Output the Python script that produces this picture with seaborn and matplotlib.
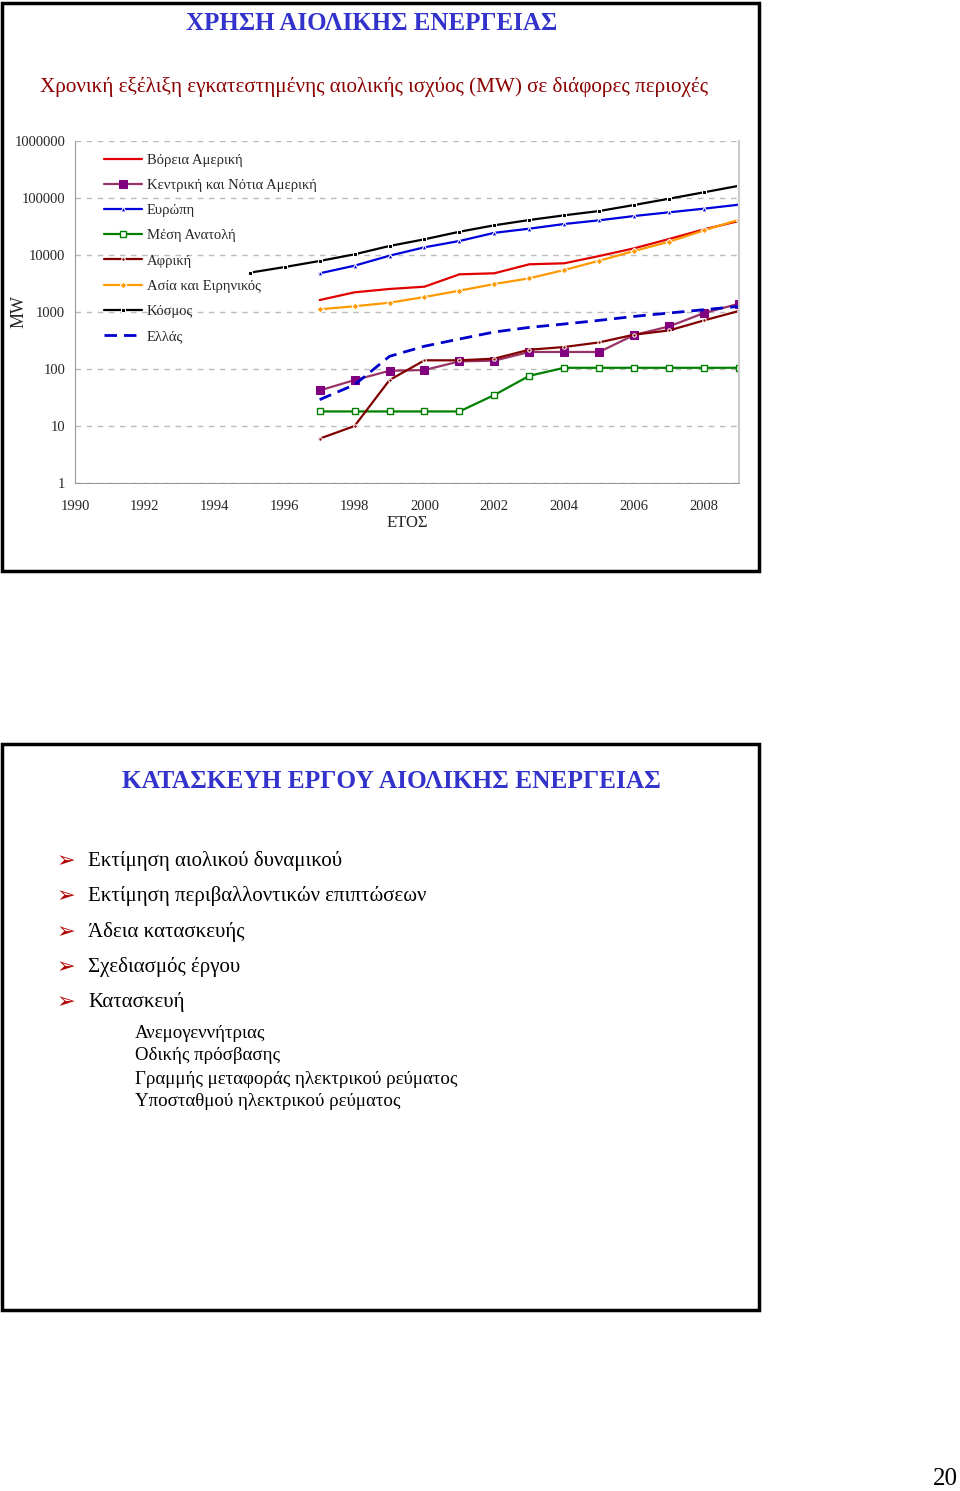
import numpy as np
import pandas as pd
import matplotlib
matplotlib.use("Agg")
import matplotlib.pyplot as plt
from matplotlib.patches import Rectangle
import seaborn as sns

# --- data ---
years = [1997, 1998, 1999, 2000, 2001, 2002, 2003, 2004, 2005, 2006, 2007, 2008, 2009]
world_years = [1995, 1996] + years

north_america = [1620, 2215, 2535, 2780, 4580, 4780, 6870, 7150, 9600, 13100, 19100, 28200, 39500]
central_south_america = [42, 64, 93, 96, 136, 140, 199, 199, 199, 395, 559, 960, 1399]
europe = [4770, 6500, 9730, 13650, 17600, 24500, 28950, 35000, 40600, 48300, 56100, 65000, 76400]
middle_east = [18, 18, 18, 18, 18, 35, 76, 105, 105, 105, 105, 105, 105]
africa = [6, 10, 64, 142, 142, 152, 218, 243, 293, 400, 475, 713, 1042]
asia_pacific = [1115, 1260, 1456, 1833, 2365, 3100, 3900, 5460, 7940, 11750, 17100, 27100, 41600]
world = [4890, 6150, 7850, 10280, 14400, 18850, 25600, 33200, 41100, 49700, 59100, 75400, 97200, 126000, 164000]
greece = [29, 53, 167, 251, 336, 446, 537, 616, 713, 837, 960, 1098, 1254]

y_ticks = [1, 10, 100, 1000, 10000, 100000, 1000000]
x_ticks = list(range(1990, 2009, 2))

bullets = [
    "Εκτίμηση αιολικού δυναμικού",
    "Εκτίμηση περιβαλλοντικών επιπτώσεων",
    "Άδεια κατασκευής",
    "Σχεδιασμός έργου",
    "Κατασκευή",
]
sub_items = [
    "Ανεμογεννήτριας",
    "Οδικής πρόσβασης",
    "Γραμμής μεταφοράς ηλεκτρικού ρεύματος",
    "Υποσταθμού ηλεκτρικού ρεύματος",
]

sns.set_style("white")
plt.rcParams["font.family"] = ["Liberation Serif", "DejaVu Sans"]

W, H = 960, 1491
fig = plt.figure(figsize=(W / 100, H / 100), dpi=100)


def fx(x):
    return x / W


def fy(y):
    return 1 - y / H


# slide frames
for top, bottom in [(3, 571), (744, 1310)]:
    fig.patches.append(Rectangle((fx(2), fy(bottom)), fx(757), (bottom - top) / H,
                                 transform=fig.transFigure, fill=False,
                                 edgecolor="black", linewidth=2.5))

title_blue = "#3333CC"
sub_red = "#8B0000"

fig.text(fx(372), fy(23), "ΧΡΗΣΗ ΑΙΟΛΙΚΗΣ ΕΝΕΡΓΕΙΑΣ", ha="center", va="center",
         fontsize=18, fontweight="bold", color=title_blue)
fig.text(fx(374), fy(87),
         "Χρονική εξέλιξη εγκατεστημένης αιολικής ισχύος (MW) σε διάφορες περιοχές",
         ha="center", va="center", fontsize=15.2, color=sub_red)

# chart axes
ax = fig.add_axes([fx(75), fy(483), (739 - 75) / W, (483 - 141) / H])

series = [
    ("Βόρεια Αμερική", years, north_america, dict(color="#E00000", marker=None)),
    ("Κεντρική και Νότια Αμερική", years, central_south_america,
     dict(color="#993366", marker="s", markersize=5.5, markerfacecolor="#800080",
          markeredgecolor="#800080")),
    ("Ευρώπη", years, europe, dict(color="#0000DD", marker="^", markersize=3.5)),
    ("Μέση Ανατολή", years, middle_east,
     dict(color="#008000", marker="s", markersize=4, markerfacecolor="white",
          markeredgecolor="#008000", markeredgewidth=1)),
    ("Αφρική", years, africa, dict(color="#800000", marker="o", markersize=2.5)),
    ("Ασία και Ειρηνικός", years, asia_pacific,
     dict(color="#FF9900", marker="D", markersize=3.5)),
    ("Κόσμος", world_years, world, dict(color="black", marker="s", markersize=2.8)),
]

for name, xs, ys, style in series:
    sns.lineplot(x=xs, y=ys, ax=ax, label=name, linewidth=1.6, **style)

sns.lineplot(x=years, y=greece, ax=ax, label="Ελλάς", color="#0000CC",
             linewidth=2.0, dashes=False)
ax.lines[-1].set_dashes((4.5, 2.5))

ax.set_yscale("log")
ax.set_ylim(1, 1000000)
ax.set_xlim(1990, 2009)
ax.set_yticks(y_ticks)
ax.set_yticklabels([str(v) for v in y_ticks])
ax.yaxis.set_minor_locator(matplotlib.ticker.NullLocator())
ax.set_xticks(x_ticks)
ax.set_xticklabels([str(v) for v in x_ticks])
ax.tick_params(axis="both", labelsize=10.5, direction="out", length=4,
               color="#999999", width=0.8)
ax.tick_params(axis="y", pad=3)
ax.tick_params(axis="x", pad=8)

ax.grid(axis="y", color="#BBBBBB", linestyle=(0, (4, 4)), linewidth=1)
for s in ["left", "bottom"]:
    ax.spines[s].set_color("#999999")
    ax.spines[s].set_linewidth(0.8)
ax.spines["right"].set_color("#CCCCCC")
ax.spines["right"].set_linewidth(1.5)
ax.spines["top"].set_visible(False)

ax.set_ylabel("MW", fontsize=13)
ax.yaxis.set_label_coords((28 - 75) / 664, (483 - 312) / 342)
ax.set_xlabel("ΕΤΟΣ", fontsize=12, labelpad=2)

ax.legend(loc="upper left", bbox_to_anchor=(0.035, 0.98), frameon=False,
          fontsize=10.5, handlelength=2.6, handletextpad=0.35, labelspacing=0.82,
          borderaxespad=0)

# second slide
fig.text(fx(391), fy(782), "ΚΑΤΑΣΚΕΥΗ ΕΡΓΟΥ ΑΙΟΛΙΚΗΣ ΕΝΕΡΓΕΙΑΣ", ha="center",
         va="center", fontsize=18.3, fontweight="bold", color=title_blue)

for i, b in enumerate(bullets):
    y = 861 + i * 35.3
    fig.text(fx(57), fy(y), "➢", ha="left", va="center", fontsize=16,
             color="#B00000", family=["DejaVu Sans"])
    fig.text(fx(88), fy(y), b, ha="left", va="center", fontsize=15, color="black")

for i, s in enumerate(sub_items):
    y = 1033 + i * 23
    fig.text(fx(135), fy(y), s, ha="left", va="center", fontsize=13.6, color="black")

fig.text(fx(958), fy(1479), "20", ha="right", va="center", fontsize=18, color="black")

fig.savefig("out.png", dpi=100)
